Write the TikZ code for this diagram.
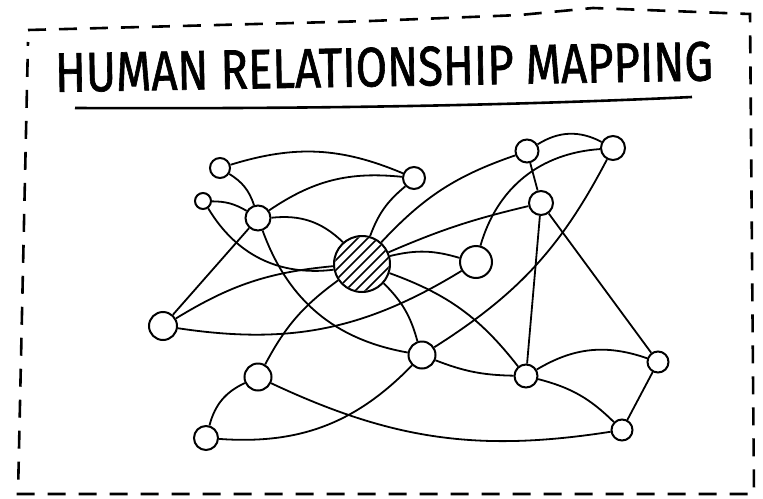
\documentclass[tikz,border=0pt]{standalone}
\usepackage{fontspec}
\setmainfont{Fira Sans}
\newfontfamily\handfont[FakeBold=1.3]{Fira Sans}
\usepackage{graphicx}
\usetikzlibrary{backgrounds}
\begin{document}
\begin{tikzpicture}[x=1pt,y=1pt,
  dot/.style={circle,draw,line width=2pt,fill=white,inner sep=0pt,minimum size=#1},
  link/.style={line width=1.8pt},
  frame/.style={line width=2.6pt,dash pattern=on 18pt off 13pt},
  hatch/.style={line width=1.6pt}]
\useasboundingbox (0,0) rectangle (763,-498);
% title
\node[inner sep=0pt,rotate=1] (title) at (384,-67)
  {\resizebox{658pt}{39pt}{\handfont HUMAN RELATIONSHIP MAPPING}};
\coordinate (u1) at (75,-108);
\coordinate (u2) at (692,-97);
\draw[line width=2.6pt] (u1) .. controls (300,-109) and (500,-106) .. (u2);
% frame
\coordinate (f1) at (28,-30);
\coordinate (f2) at (370,-21);
\coordinate (f3) at (520,-15);
\coordinate (f4) at (593,-8);
\coordinate (f5) at (750,-14);
\coordinate (f6) at (754,-494);
\coordinate (f7) at (18,-494);
\draw[frame] (f1) -- (f2) -- (f3) -- (f4) -- (f5) -- (f6) -- (f7) -- (28,-42);
% nodes
\node[dot=20pt] (A) at (220,-168) {};
\node[dot=16pt] (B) at (203,-201) {};
\node[dot=25pt] (C) at (258,-218) {};
\node[dot=22pt] (D) at (414,-178) {};
\node[dot=56pt] (H) at (362,-264) {};
\node[dot=23pt] (E) at (527,-151) {};
\node[dot=24pt] (F) at (613,-148) {};
\node[dot=24pt] (G) at (541,-203) {};
\node[dot=32pt] (I) at (476,-262) {};
\node[dot=28pt] (L) at (163,-326) {};
\node[dot=27pt] (M) at (422,-355) {};
\node[dot=27pt] (N) at (258,-377) {};
\node[dot=23pt] (O) at (526,-376) {};
\node[dot=21pt] (P) at (658,-362) {};
\node[dot=24pt] (Q) at (206,-438) {};
\node[dot=21pt] (R) at (622,-430) {};
% hatching of the hub
\begin{scope}
  \clip (H.center) circle (27pt);
  \foreach \i in {-80,-70,...,80}
    \draw[hatch,shift={(H.center)}] (\i-40,-40) -- (\i+40,40);
\end{scope}
% connectors
\begin{scope}[on background layer]
\draw[link] (A) to[bend left=20] (D);
\draw[link] (A) to[bend left=20] (C);
\draw[link] (B) to[bend left=15] (C);
\draw[link] (C) to[bend left=20] (D);
\draw[link] (C) to[bend left=25] (H);
\draw[link] (B) to[bend right=33] (H);
\draw[link] (C) to (L);
\draw[link] (C) to[bend right=30] (M);
\draw[link] (L) to[bend left=13] (H);
\draw[link] (L) to[bend right=20] (I);
\draw[link] (D) to[bend right=15] (H);
\draw[link] (H) to[bend left=14] (E);
\draw[link] (H) to[bend left=5] (G);
\draw[link] (H) to[bend left=15] (I);
\draw[link] (H) to[bend left=16] (O);
\draw[link] (H) to[bend left=15] (M);
\draw[link] (H) to[bend right=13] (N);
\draw[link] (E) to[bend left=30] (F);
\draw[link] (E) to (G);
\draw[link] (F) to[bend right=35] (I);
\draw[link] (F) to[bend left=15] (M);
\draw[link] (G) to (O);
\draw[link] (G) to (P);
\draw[link] (M) to[bend right=10] (O);
\draw[link] (O) to[bend left=25] (P);
\draw[link] (O) to[bend left=15] (R);
\draw[link] (P) to (R);
\draw[link] (N) to[bend right=25] (Q);
\draw[link] (N) to[bend right=17] (R);
\draw[link] (Q) to[bend right=25] (M);
\end{scope}
\end{tikzpicture}
\end{document}
